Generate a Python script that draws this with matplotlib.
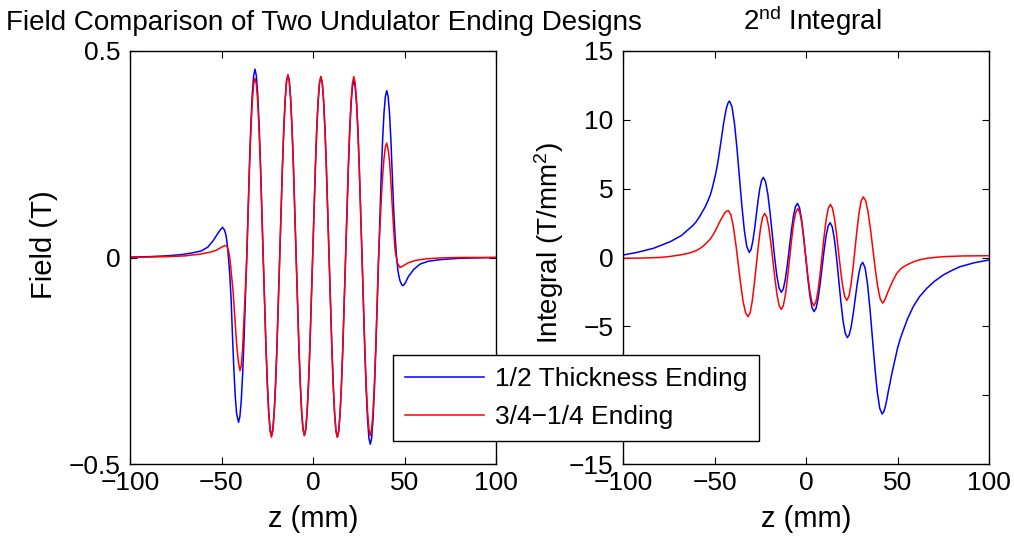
import matplotlib
matplotlib.use("Agg")
import matplotlib.pyplot as plt

plt.rcParams['font.family'] = ['Liberation Sans', 'DejaVu Sans']
plt.rcParams['mathtext.fontset'] = 'custom'
plt.rcParams['mathtext.rm'] = 'Liberation Sans'
plt.rcParams['mathtext.it'] = 'Liberation Sans'

# ---------------- data ----------------
# z positions (mm) of the undulator core, shared by both field curves
field_core_z = [-36.2, -35.45, -34.7, -33.95, -33.2, -32.45, -31.7, -30.95, -30.2, -29.45, -28.7, -27.95,
                -27.2, -26.45, -25.7, -24.95, -24.2, -23.45, -22.7, -21.95, -21.2, -20.45, -19.7, -18.95,
                -18.2, -17.45, -16.7, -15.95, -15.2, -14.45, -13.7, -12.95, -12.2, -11.45, -10.7, -9.95,
                -9.2, -8.45, -7.7, -6.95, -6.2, -5.45, -4.7, -3.95, -3.2, -2.45, -1.7, -0.95,
                -0.2, 0.55, 1.3, 2.05, 2.8, 3.55, 4.3, 5.05, 5.8, 6.55, 7.3, 8.05,
                8.8, 9.55, 10.3, 11.05, 11.8, 12.55, 13.3, 14.05, 14.8, 15.55, 16.3, 17.05,
                17.8, 18.55, 19.3, 20.05, 20.8, 21.55, 22.3, 23.05, 23.8, 24.55, 25.3, 26.05,
                26.8, 27.55, 28.3, 29.05, 29.8, 30.55, 31.3, 32.05, 32.8, 33.55, 34.3, 35.05,
                35.8]

# Field, 1/2 thickness ending (blue)
field_half_left_z = [-100, -90, -80, -72, -66, -61, -57.5, -54.5, -52.5, -50.8, -49.4, -48.3, -47.5, -46.8,
                     -46.2, -45.5, -44.75, -44.0, -43.25, -42.5, -41.75, -40.7, -39.95, -39.2, -38.45, -37.7, -36.95]
field_half_left_b = [0.001, 0.002, 0.004, 0.007, 0.011, 0.016, 0.025, 0.041, 0.055, 0.066, 0.073, 0.066, 0.053, 0.030,
                     0.0, -0.04, -0.10, -0.19, -0.27, -0.335, -0.378, -0.399, -0.385, -0.346, -0.282, -0.20, -0.103]
field_half_core_b = [0.0, 0.118, 0.228, 0.322, 0.395, 0.440, 0.456, 0.440, 0.395, 0.322, 0.228, 0.118,
                     0.0, -0.112, -0.216, -0.305, -0.373, -0.416, -0.431, -0.416, -0.373, -0.305, -0.216, -0.112,
                     0.0, 0.114, 0.221, 0.312, 0.383, 0.427, 0.442, 0.427, 0.383, 0.312, 0.221, 0.114,
                     0.0, -0.112, -0.216, -0.305, -0.373, -0.416, -0.431, -0.416, -0.373, -0.305, -0.216, -0.112,
                     0.0, 0.113, 0.219, 0.310, 0.379, 0.423, 0.438, 0.423, 0.379, 0.310, 0.219, 0.113,
                     0.0, -0.113, -0.218, -0.308, -0.377, -0.420, -0.435, -0.420, -0.377, -0.308, -0.218, -0.113,
                     0.0, 0.111, 0.214, 0.303, 0.371, 0.413, 0.428, 0.413, 0.371, 0.303, 0.214, 0.111,
                     0.0, -0.117, -0.226, -0.320, -0.391, -0.437, -0.452, -0.437, -0.391, -0.320, -0.226, -0.117,
                     0.0]
field_half_right_z = [36.55, 37.3, 38.05, 38.8, 39.55, 40.3, 41.05, 41.8, 42.55, 43.3, 44.05, 44.8,
                      45.7, 46.5, 47.5, 48.5, 49.3, 50.5, 52, 55, 58.5, 63, 70, 80, 90, 100]
field_half_right_b = [0.105, 0.202, 0.286, 0.350, 0.390, 0.404, 0.390, 0.350, 0.286, 0.200, 0.120, 0.055,
                      0.0, -0.035, -0.056, -0.066, -0.068, -0.061, -0.047, -0.029, -0.016, -0.009, -0.005,
                      -0.002, -0.001, 0.0]

# Field, 3/4-1/4 ending (red)
field_qtr_left_z = [-100, -80, -70, -62, -56, -52.6, -50, -48, -47.2, -46.5, -45.8, -45.2, -44.45, -43.7,
                    -42.95, -42.2, -41.45, -40.7, -39.9, -39.2, -38.45, -37.7, -36.95]
field_qtr_left_b = [0.0, 0.002, 0.004, 0.008, 0.013, 0.018, 0.025, 0.029, 0.028, 0.022, 0.008, -0.012, -0.045,
                    -0.08, -0.13, -0.18, -0.225, -0.255, -0.274, -0.262, -0.22, -0.15, -0.077]
field_qtr_core_b = [0.0, 0.112, 0.217, 0.307, 0.376, 0.419, 0.434, 0.419, 0.376, 0.307, 0.217, 0.112,
                    0.0, -0.113, -0.218, -0.308, -0.377, -0.420, -0.435, -0.420, -0.377, -0.308, -0.218, -0.113,
                    0.0, 0.114, 0.221, 0.312, 0.383, 0.427, 0.442, 0.427, 0.383, 0.312, 0.221, 0.114,
                    0.0, -0.112, -0.216, -0.305, -0.373, -0.416, -0.431, -0.416, -0.373, -0.305, -0.216, -0.112,
                    0.0, 0.113, 0.219, 0.310, 0.379, 0.423, 0.438, 0.423, 0.379, 0.310, 0.219, 0.113,
                    0.0, -0.113, -0.218, -0.308, -0.377, -0.420, -0.435, -0.420, -0.377, -0.308, -0.218, -0.113,
                    0.0, 0.113, 0.219, 0.310, 0.379, 0.423, 0.438, 0.423, 0.379, 0.310, 0.219, 0.113,
                    0.0, -0.112, -0.216, -0.305, -0.373, -0.416, -0.431, -0.416, -0.373, -0.305, -0.216, -0.112,
                    0.0]
field_qtr_right_z = [36.55, 37.3, 38.05, 38.8, 39.55, 40.3, 41.05, 41.8, 42.55, 43.3, 44.05, 44.8,
                     46, 47.5, 49, 52, 56, 62, 70, 80, 100]
field_qtr_right_b = [0.072, 0.14, 0.198, 0.24, 0.268, 0.277, 0.262, 0.235, 0.185, 0.125, 0.07, 0.02,
                     -0.012, -0.024, -0.021, -0.013, -0.007, -0.003, -0.001, 0.0, 0.0]

# 2nd integral, 1/2 thickness ending (blue)
int_half_z = [-100, -92, -83.3, -74.2, -68, -65.1, -62, -60, -57.8, -55, -53.5, -52.3, -51.3, -50.4, -49.5,
              -48.6, -47.7, -46.9, -46.0, -45.2, -44.3, -43.5, -42.6, -41.8,
              -40.45, -39.1, -37.75, -36.4, -35.05, -33.7, -32.35, -31.0,
              -30.04, -29.08, -28.11, -27.15, -26.19, -25.23, -24.26, -23.3,
              -22.08, -20.85, -19.63, -18.4, -17.18, -15.95, -14.73, -13.5,
              -12.4, -11.3, -10.2, -9.1, -8.0, -6.9, -5.8, -4.7,
              -3.56, -2.43, -1.29, -0.15, 0.99, 2.13, 3.26, 4.4,
              5.5, 6.6, 7.7, 8.8, 9.9, 11.0, 12.1, 13.2,
              14.38, 15.55, 16.73, 17.9, 19.08, 20.25, 21.43, 22.6,
              23.65, 24.7, 25.75, 26.8, 27.85, 28.9, 29.95, 31.0,
              32.33, 33.65, 34.98, 36.3, 37.63, 38.95, 40.28, 41.6,
              42.5, 43.3, 44.2, 45.0, 45.8, 46.5, 47.8, 49.0, 50.0, 51.5, 53.2, 55.5, 58.6, 62, 66.0,
              70, 75.0, 80, 84.1, 92.0, 100]
int_half_v = [0.18, 0.38, 0.67, 1.15, 1.6, 1.95, 2.3, 2.6, 3.05, 3.7, 4.15, 4.54, 5.0, 5.5, 6.0,
              6.6, 7.3, 8.05, 8.85, 9.6, 10.3, 10.85, 11.22, 11.37,
              10.95, 9.76, 7.97, 5.87, 3.77, 1.98, 0.79, 0.37,
              0.58, 1.17, 2.05, 3.095, 4.14, 5.02, 5.61, 5.82,
              5.50, 4.60, 3.24, 1.645, 0.05, -1.31, -2.21, -2.53,
              -2.285, -1.587, -0.534, 0.70, 1.934, 2.987, 3.685, 3.93,
              3.63, 2.78, 1.50, 0.0, -1.50, -2.78, -3.63, -3.93,
              -3.685, -2.987, -1.934, -0.70, 0.534, 1.587, 2.285, 2.53,
              2.21, 1.31, -0.05, -1.645, -3.24, -4.60, -5.50, -5.82,
              -5.61, -5.02, -4.13, -3.085, -2.04, -1.15, -0.56, -0.35,
              -0.77, -1.96, -3.76, -5.86, -7.97, -9.76, -10.95, -11.37,
              -11.2, -10.85, -10.3, -9.7, -9.2, -8.7, -7.9, -7.2, -6.6, -5.9, -5.27, -4.45, -3.57, -2.85, -2.24,
              -1.75, -1.27, -0.92, -0.67, -0.38, -0.18]

# 2nd integral, 3/4-1/4 ending (red)
int_qtr_z = [-100, -90, -80, -74.2, -68, -65.1, -62, -60, -58, -56, -54, -52, -50.3, -48.6, -47.5, -46.5,
             -45.1, -44.4, -43.7, -43.0, -42.4,
             -41.06, -39.73, -38.39, -37.05, -35.71, -34.38, -33.04, -31.7,
             -30.56, -29.43, -28.29, -27.15, -26.01, -24.88, -23.74, -22.6,
             -21.46, -20.33, -19.19, -18.05, -16.91, -15.78, -14.64, -13.5,
             -12.38, -11.25, -10.13, -9.0, -7.88, -6.75, -5.63, -4.5,
             -3.4, -2.3, -1.2, -0.1, 1.0, 2.1, 3.2, 4.3,
             5.43, 6.55, 7.68, 8.8, 9.93, 11.05, 12.18, 13.3,
             14.43, 15.55, 16.68, 17.8, 18.93, 20.05, 21.18, 22.3,
             23.43, 24.55, 25.68, 26.8, 27.93, 29.05, 30.18, 31.3,
             32.63, 33.95, 35.28, 36.6, 37.93, 39.25, 40.58, 41.9,
             42.6, 43.3, 44.6, 46.0, 47.8, 49.6, 52.0, 54.5, 56.9, 60.0, 63, 66.0, 70, 75.0, 85.0, 100]
int_qtr_v = [-0.06, -0.04, 0.0, 0.08, 0.2, 0.28, 0.4, 0.5, 0.65, 0.85, 1.1, 1.4, 1.75, 2.2, 2.5, 2.75,
             3.09, 3.24, 3.33, 3.39, 3.40,
             3.11, 2.28, 1.02, -0.45, -1.92, -3.18, -4.01, -4.30,
             -4.015, -3.205, -1.98, -0.55, 0.88, 2.105, 2.915, 3.20,
             2.935, 2.18, 1.05, -0.285, -1.62, -2.75, -3.505, -3.77,
             -3.49, -2.70, -1.51, -0.11, 1.29, 2.48, 3.27, 3.55,
             3.28, 2.52, 1.37, 0.025, -1.32, -2.47, -3.23, -3.50,
             -3.22, -2.425, -1.226, 0.18, 1.586, 2.785, 3.58, 3.86,
             3.595, 2.84, 1.71, 0.375, -0.956, -2.09, -2.845, -3.11,
             -2.825, -2.01, -0.79, 0.645, 2.08, 3.30, 4.115, 4.40,
             4.11, 3.27, 2.02, 0.545, -0.93, -2.18, -3.02, -3.31,
             -3.2, -3.0, -2.55, -2.12, -1.6, -1.15, -0.8, -0.58, -0.42, -0.25, -0.14, -0.06, 0.0, 0.06, 0.11, 0.13]

series_labels = ['1/2 Thickness Ending', '3/4\u22121/4 Ending']
x_ticks = [-100, -50, 0, 50, 100]
field_ticks = [-0.5, 0, 0.5]
field_tick_labels = ['\u22120.5', '0', '0.5']
int_ticks = [-15, -10, -5, 0, 5, 10, 15]

field_half_z = field_half_left_z + field_core_z + field_half_right_z
field_half_b = field_half_left_b + field_half_core_b + field_half_right_b
field_qtr_z = field_qtr_left_z + field_core_z + field_qtr_right_z
field_qtr_b = field_qtr_left_b + field_qtr_core_b + field_qtr_right_b

# ---------------- figure ----------------
FS = 19
LFS = 21
fig = plt.figure(figsize=(10.14, 5.38), dpi=100)
ax1 = fig.add_axes([130/1014, 74/538, 366/1014, 413/538])
ax2 = fig.add_axes([623/1014, 74/538, 366/1014, 413/538])

l1, = ax1.plot(field_half_z, field_half_b, color='#0000ff', lw=1.1)
l2, = ax1.plot(field_qtr_z, field_qtr_b, color='#ff0000', lw=1.1)
ax2.plot(int_half_z, int_half_v, color='#0000ff', lw=1.1)
ax2.plot(int_qtr_z, int_qtr_v, color='#ff0000', lw=1.1)

ax1.set_xlim(-100, 100)
ax1.set_ylim(-0.5, 0.5)
ax1.set_yticks(field_ticks)
ax1.set_yticklabels(field_tick_labels)
ax2.set_xlim(-100, 100)
ax2.set_ylim(-15, 15)
ax2.set_yticks(int_ticks)

for ax in (ax1, ax2):
    ax.set_xticks(x_ticks)
    ax.tick_params(direction='in', top=True, right=True, length=5, width=0.8,
                   labelsize=FS, pad=5)
    ax.tick_params(axis='y', pad=7)
    for s in ax.spines.values():
        s.set_linewidth(1.0)
    ax.set_xlabel('z (mm)', fontsize=LFS, labelpad=7)

ax1.set_ylabel('Field (T)', fontsize=LFS)
ax1.yaxis.set_label_coords(-0.198, 0.53)
ax2.set_ylabel('Integral (T/mm$^2$)', fontsize=20)
ax2.yaxis.set_label_coords(-0.155, 0.535)
ax1.set_title('Field Comparison of Two Undulator Ending Designs', fontsize=20, pad=15, x=0.53)
ax2.set_title('2$^{\\mathrm{nd}}$ Integral', fontsize=20, pad=15, x=0.516)

leg = fig.legend([l1, l2], series_labels, loc='upper left',
                 bbox_to_anchor=(393/1014, 1 - 355/538), borderaxespad=0,
                 fontsize=FS, frameon=True, fancybox=False, framealpha=1,
                 edgecolor='black', handlelength=3.0, handletextpad=0.4,
                 labelspacing=0.55, borderpad=0.45)
leg.get_frame().set_linewidth(1.0)

fig.savefig('out.png', dpi=100)
